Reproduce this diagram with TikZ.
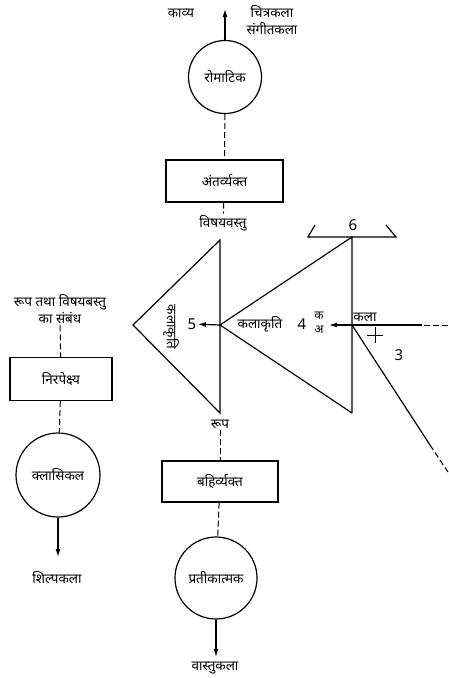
\documentclass[tikz,border=0pt]{standalone}
\usepackage{fontspec}
\setmainfont[Script=Devanagari]{Noto Sans}
\usetikzlibrary{arrows.meta}
\begin{document}
\begin{tikzpicture}[x=1pt,y=-1pt, line width=1.2pt,
  font=\fontsize{13.5}{15}\selectfont,
  circ/.style={circle, draw, inner sep=0pt},
  boxn/.style={draw, rectangle, inner sep=0pt},
  lbl/.style={inner sep=1pt},
  small/.style={inner sep=0.5pt, font=\fontsize{12}{12}\selectfont},
  num/.style={inner sep=1pt, font=\fontsize{15}{15}\selectfont},
  dsh/.style={dash pattern=on 6pt off 3pt, line width=1pt},
  arr/.style={-{Latex[length=8pt,width=5pt]}}]
\useasboundingbox (0,0) rectangle (448,678);
% top column
\node[circ, minimum size=73] (rom) at (225,77) {रोमाटिक};
\node[lbl] (kavya) at (181,13) {काव्य};
\node[lbl] (chitra) at (272,12) {चित्रकला};
\node[lbl] (sangeet) at (272,29) {संगीतकला};
\coordinate (topend) at (225,9);
\draw[arr] (rom) -- (topend);
\node[boxn, minimum width=117, minimum height=42] (antar) at (224.5,181) {अंतर्व्यक्त};
\node[lbl] (vishay) at (223,223) {विषयवस्तु};
\draw[dsh] (rom) -- (antar);
\draw[dsh] (antar) -- (vishay);
% triangles
\coordinate (T) at (220,240);
\coordinate (B) at (220,413);
\coordinate (Lp) at (133,325);
\coordinate (C) at (220,325);
\coordinate (RT) at (352,237);
\coordinate (RB) at (352,413);
\coordinate (RC) at (352,325);
\draw[line join=miter] (T) -- (Lp) -- (B) -- cycle;
\draw[line join=miter] (C) -- (RT) -- (RB);
\draw (C) -- (RB);
\node[num] (five) at (192,324) {5};
\draw[arr] (C) -- (five);
\node[lbl, rotate=-90] (kkv) at (171,327) {कलाकृति};
\node[lbl] (kalakriti) at (260,324) {कलाकृति};
\node[num] (four) at (302,324) {4};
\node[small] (ka1) at (319,316) {क};
\node[small] (ka2) at (319,330) {अ};
\node[lbl] (rup) at (220,424) {रूप};
% bracket 6
\coordinate (br1) at (315,225);
\coordinate (br2) at (308,237);
\coordinate (br3) at (396,237);
\coordinate (br4) at (386,225);
\draw (br1) -- (br2) -- (br3) -- (br4);
\node[num] (six) at (353,225) {6};
% right incoming line
\coordinate (rin) at (448,325);
\coordinate (rs) at (422,325);
\coordinate (atip) at (329,325);
\draw[dsh] (rin) -- (rs);
\draw[arr] (rs) -- (atip);
\node[lbl] (kala) at (365,317) {कला};
\coordinate (pl) at (367,335);
\coordinate (pr) at (383,335);
\coordinate (pt) at (375,327);
\coordinate (pb) at (375,343);
\draw[line width=1pt] (pl) -- (pr);
\draw[line width=1pt] (pt) -- (pb);
\node[num] (three) at (399,355) {3};
\coordinate (dg1) at (430,445);
\coordinate (dg2) at (448,472);
\draw (RC) -- (dg1);
\draw[dsh] (dg1) -- (dg2);
% left column
\node[lbl] (rel1) at (60,302) {रूप तथा विषयबस्तु};
\node[lbl] (rel2) at (60,318) {का संबंध};
\node[boxn, minimum width=102, minimum height=43] (nirp) at (61,379) {निरपेक्ष्य};
\node[circ, minimum size=84] (kl) at (58,475) {क्लासिकल};
\coordinate (klend) at (58,557);
\node[lbl] (shilp) at (57,578) {शिल्पकला};
\draw[dsh] (rel2) -- (nirp);
\draw[dsh] (nirp) -- (kl);
\draw[arr] (kl) -- (klend);
% bottom column
\node[boxn, minimum width=116, minimum height=41] (bahir) at (220,481.5) {बहिर्व्यक्त};
\node[circ, minimum size=82] (prat) at (216,578) {प्रतीकात्मक};
\coordinate (pend) at (216,657);
\node[lbl] (vastu) at (215,668) {वास्तुकला};
\draw[dsh] (rup) -- (bahir);
\draw[dsh] (bahir) -- (prat);
\draw[arr] (prat) -- (pend);
\end{tikzpicture}
\end{document}
